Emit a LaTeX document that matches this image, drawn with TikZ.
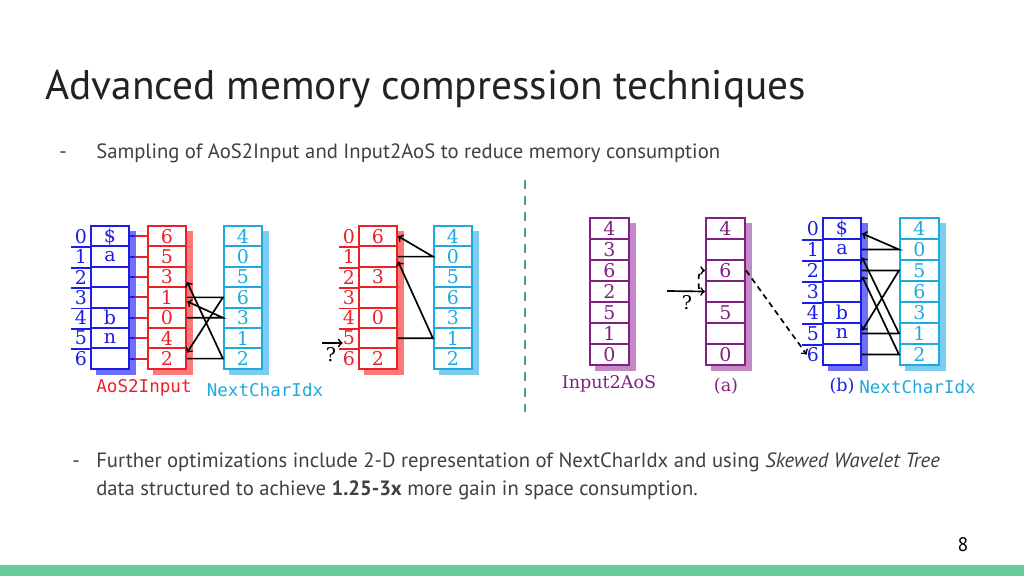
\documentclass[tikz,border=0pt]{standalone}
\usepackage{fontspec}
\setmainfont{PT Sans}
\newfontfamily\cellfont{DejaVu Serif}
\newfontfamily\codefont{DejaVu Sans Mono}
\usetikzlibrary{positioning,calc,backgrounds}

\definecolor{aosblue}{RGB}{28,28,235}
\definecolor{aosshade}{RGB}{112,112,245}
\definecolor{inred}{RGB}{238,32,38}
\definecolor{inshade}{RGB}{255,120,120}
\definecolor{nextcyan}{RGB}{30,170,222}
\definecolor{nextshade}{RGB}{125,205,240}
\definecolor{invpurple}{RGB}{128,32,128}
\definecolor{invshade}{RGB}{196,138,200}
\definecolor{slidegreen}{RGB}{102,206,152}
\definecolor{rulegreen}{RGB}{78,160,128}
\definecolor{slidetext}{RGB}{64,64,64}
\definecolor{titletext}{RGB}{34,34,34}

\tikzset{
  cell/.style={draw, fill=white, line width=1.3pt, inner sep=0pt,
    minimum width=0.96cm, minimum height=0.51cm,
    font=\cellfont\fontsize{13.5}{13.5}\selectfont},
  tallcell/.style={cell, minimum width=0.98cm, minimum height=0.525cm},
  bluecell/.style={draw=aosblue, text=aosblue},
  redcell/.style={draw=inred, text=inred},
  cyancell/.style={draw=nextcyan, text=nextcyan},
  purplecell/.style={draw=invpurple, text=invpurple},
  idx/.style={inner sep=0pt, font=\cellfont\fontsize{13.5}{13.5}\selectfont},
  idxline/.style={line width=1.3pt},
  codelabel/.style={inner sep=0pt, font=\codefont\fontsize{12.5}{12.5}\selectfont},
  seriflabel/.style={inner sep=0pt, font=\cellfont\fontsize{12.5}{12.5}\selectfont},
  link/.style={->, line width=1.2pt},
  dlink/.style={link, dash pattern=on 4pt off 3pt},
  slide/.style={inner sep=0pt, text=slidetext, font=\fontsize{14.7}{16}\selectfont}
}

\begin{document}
\begin{tikzpicture}[x=0.025cm, y=-0.025cm]
  \useasboundingbox (0,0) rectangle (1024,576);

  % slide text
  \node[inner sep=0pt, anchor=base west, text=titletext,
    font=\fontsize{29.4}{36}\selectfont] (title) at (45,100)
    {Advanced memory compression techniques};
  \node[slide, anchor=base] (dash1) at (63,159) {-};
  \node[slide, anchor=base west] (point1) at (96,159)
    {Sampling of AoS2Input and Input2AoS to reduce memory consumption};

  % left: full AoS2Input
  \foreach \v [count=\i from 0] in {\$,a,{},{},b,n,{}}
    \node[cell, bluecell] (b\i) at (110,{226+(\i+0.5)*20.4}) {\v};
  \foreach \v [count=\i from 0] in {6,5,3,1,0,4,2}
    \node[cell, redcell] (r\i) at (167,{226+(\i+0.5)*20.4}) {\v};
  \foreach \v [count=\i from 0] in {4,0,5,6,3,1,2}
    \node[cell, cyancell] (n\i) at (243,{226+(\i+0.5)*20.4}) {\v};
  \foreach \i in {0,...,6} {
    \node[idx, aosblue] (bi\i) at (81,{226+(\i+0.5)*20.4}) {\i};
    \draw[idxline, aosblue] (b\i.east) -- ++(7,0);
    \draw[idxline, inred] (r\i.west) -- ++(-12,0);
  }
  \foreach \i in {0,...,5}
    \draw[idxline, aosblue] (b\i.south west) -- ++(-19,0);
  \node[codelabel, text=inred] (aosname) at (144,388) {AoS2Input};
  \node[codelabel, text=nextcyan] (nextname) at (265,390) {NextCharIdx};
  \draw[link]
    (r3.east)
    --
    (n3.west)
    --
    ($(r6.east)+(0,-6)$);
  \draw[link]
    (r4.east)
    --
    (n4.west)
    --
    ($(r3.east)+(0,4)$);
  \draw[link]
    (r6.east)
    --
    (n6.west)
    --
    ($(r2.east)+(0,5)$);

  % middle: sampled AoS2Input
  \foreach \v [count=\i from 0] in {6,{},3,{},0,{},2}
    \node[cell, redcell] (s\i) at (378,{226+(\i+0.5)*20.4}) {\v};
  \foreach \v [count=\i from 0] in {4,0,5,6,3,1,2}
    \node[cell, cyancell] (m\i) at (453,{226+(\i+0.5)*20.4}) {\v};
  \foreach \i in {0,...,6}
    \node[idx, inred] (si\i) at (349,{226+(\i+0.5)*20.4}) {\i};
  \foreach \i in {0,...,5}
    \draw[idxline, inred] (s\i.south west) -- ++(-19,0);
  \draw[link]
    (s1.east)
    --
    (m1.west)
    --
    (s0.east);
  \draw[link]
    (s5.east)
    --
    (m5.west)
    --
    ($(s1.east)+(0,5)$);
  \coordinate (q1) at (322,343);
  \draw[link] (q1) -- (q1 -| si5.west);
  \node[idx] (qm1) at (331,355) {?};

  % separator
  \draw[rulegreen, line width=2pt, dash pattern=on 6.4pt off 5pt]
    (525,180) -- (525,412);

  % right: Input2AoS and its samples
  \foreach \v [count=\i from 0] in {4,3,6,2,5,1,0}
    \node[tallcell, purplecell] (p\i) at (609.5,{218+(\i+0.5)*21}) {\v};
  \foreach \v [count=\i from 0] in {4,{},6,{},5,{},0}
    \node[tallcell, purplecell] (a\i) at (725.5,{218+(\i+0.5)*21}) {\v};
  \foreach \v [count=\i from 0] in {\$,a,{},{},b,n,{}}
    \node[tallcell, bluecell, minimum width=0.96cm] (c\i) at (842,{218+(\i+0.5)*21}) {\v};
  \foreach \v [count=\i from 0] in {4,0,5,6,3,1,2}
    \node[tallcell, cyancell] (d\i) at (919.5,{218+(\i+0.5)*21}) {\v};
  \foreach \i in {0,...,6}
    \node[idx, aosblue] (ci\i) at (813,{218+(\i+0.5)*21}) {\i};
  \foreach \i in {0,...,5}
    \draw[idxline, aosblue] (c\i.south west) -- ++(-20,0);
  \node[seriflabel, text=invpurple] (invname) at (609,384) {Input2AoS};
  \node[seriflabel, text=invpurple] (alabel) at (726,386) {(a)};
  \node[seriflabel, text=aosblue] (blabel) at (842,386) {(b)};
  \node[codelabel, text=nextcyan, anchor=west] (nextname2) at (859,387) {NextCharIdx};
  \coordinate (q2) at (667,291);
  \draw[link] (q2) -- (a3.west);
  \node[idx] (qm2) at (687,303) {?};
  \coordinate (q3) at (699,289);
  \draw[dlink] (q3) to[out=95,in=180] (a2.west);
  \draw[dlink] (a2.east) -- (ci6.west);
  \draw[link]
    (c1.east)
    --
    (d1.west)
    --
    ($(c0.east)+(0,5)$);
  \draw[link]
    (c2.east)
    --
    (d2.west)
    --
    ($(c5.east)+(0,-3)$);
  \draw[link]
    (c5.east)
    --
    (d5.west)
    --
    ($(c1.east)+(0,8)$);
  \draw[link]
    (c6.east)
    --
    (d6.west)
    --
    ($(c2.east)+(0,6)$);

  % shadows
  \begin{scope}[on background layer]
    \fill[aosshade] ($(b0.north west)+(6,6)$) rectangle ($(b6.south east)+(6,5)$);
    \fill[inshade] ($(r0.north west)+(6,6)$) rectangle ($(r6.south east)+(6,5)$);
    \fill[nextshade] ($(n0.north west)+(6,6)$) rectangle ($(n6.south east)+(6,5)$);
    \fill[inshade] ($(s0.north west)+(6,6)$) rectangle ($(s6.south east)+(6,5)$);
    \fill[nextshade] ($(m0.north west)+(6,6)$) rectangle ($(m6.south east)+(6,5)$);
    \fill[invshade] ($(p0.north west)+(6,6)$) rectangle ($(p6.south east)+(6,5)$);
    \fill[invshade] ($(a0.north west)+(6,6)$) rectangle ($(a6.south east)+(6,5)$);
    \fill[aosshade] ($(c0.north west)+(6,6)$) rectangle ($(c6.south east)+(6,5)$);
    \fill[nextshade] ($(d0.north west)+(6,6)$) rectangle ($(d6.south east)+(6,5)$);
  \end{scope}

  % further work
  \node[slide, anchor=base] (dash2) at (76,467) {-};
  \node[slide, anchor=base west] (point2) at (96,467)
    {Further optimizations include 2-D representation of NextCharIdx and using \textit{Skewed Wavelet Tree}};
  \node[slide, anchor=base west] (point2b) at (96,495)
    {data structured to achieve \textbf{1.25-3x} more gain in space consumption.};
  \node[slide, text=black, font=\fontsize{14}{16}\selectfont] (pagenum) at (963,545) {8};
  \fill[slidegreen] (0,565) rectangle (1024,576);
\end{tikzpicture}
\end{document}
